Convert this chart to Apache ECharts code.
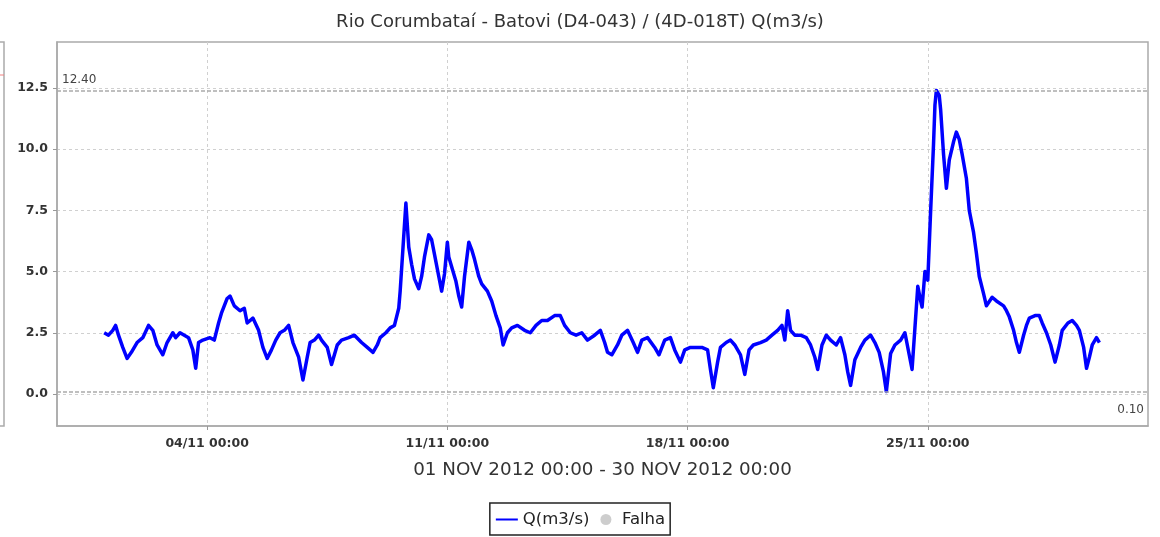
<!DOCTYPE html>
<html>
<head>
<meta charset="utf-8">
<title>Rio Corumbataí - Batovi</title>
<script src="https://cdn.jsdelivr.net/npm/echarts@6/dist/echarts.min.js"></script>
<style>
  html, body { margin: 0; padding: 0; background: #fff; }
  #chart { width: 1160px; height: 537px; }
</style>
</head>
<body>
<div id="chart"></div>
<script>
// Hourly offsets from 01 NOV 2012 00:00 and the discharge Q (m3/s) at each one
const hours = [
  0, 3, 6, 8, 10, 13, 16, 19, 23, 27, 31, 34, 37, 41, 44, 48, 50, 53, 56, 59,
  62, 64, 66, 69, 74, 77, 80, 82, 86, 88, 91, 95, 98, 100, 104, 108, 111, 114, 117, 120,
  123, 126, 129, 132, 136, 139, 142, 144, 147, 150, 152, 156, 159, 163, 166, 171, 175, 180, 184, 188,
  191, 193, 197, 200, 203, 206, 207, 209, 211, 213, 215, 217, 220, 222, 224, 227, 229, 231, 234, 236,
  238, 240, 241, 243, 246, 248, 250, 252, 255, 257, 259, 262, 264, 268, 271, 274, 277, 279, 282, 285,
  289, 294, 298, 302, 306, 310, 315, 319, 322, 326, 330, 334, 338, 343, 347, 350, 352, 355, 359, 362,
  366, 370, 373, 376, 380, 385, 388, 392, 396, 399, 403, 406, 410, 414, 418, 422, 424, 426, 429, 431,
  435, 438, 441, 445, 448, 451, 454, 459, 463, 467, 471, 474, 476, 478, 480, 483, 487, 491, 494, 497,
  499, 502, 505, 508, 512, 515, 518, 520, 522, 525, 529, 532, 536, 539, 542, 545, 547, 550, 553, 557,
  560, 563, 565, 567, 569, 571, 572, 574, 576, 578, 580, 581, 582, 584, 585, 587, 589, 591, 594, 596,
  598, 600, 603, 605, 608, 610, 612, 615, 617, 621, 624, 629, 631, 633, 636, 638, 640, 643, 645, 647,
  651, 654, 656, 659, 662, 665, 668, 670, 674, 677, 680, 682, 685, 687, 689, 691, 694, 696
];
const flow = [
  2.5, 2.4, 2.6, 2.8, 2.4, 1.9, 1.45, 1.7, 2.1, 2.3, 2.8, 2.6, 2.0, 1.6, 2.1, 2.5, 2.3, 2.5, 2.4, 2.3,
  1.8, 1.05, 2.1, 2.2, 2.3, 2.2, 2.9, 3.3, 3.9, 4.0, 3.6, 3.4, 3.5, 2.9, 3.1, 2.6, 1.9, 1.45, 1.8, 2.2,
  2.5, 2.6, 2.8, 2.1, 1.5, 0.57, 1.5, 2.1, 2.2, 2.4, 2.2, 1.9, 1.2, 2.0, 2.2, 2.3, 2.4, 2.1, 1.9, 1.7,
  2.0, 2.3, 2.5, 2.7, 2.8, 3.5, 4.2, 6.0, 7.8, 6.0, 5.3, 4.7, 4.3, 4.8, 5.6, 6.5, 6.3, 5.7, 4.8, 4.2,
  4.9, 6.2, 5.6, 5.2, 4.6, 4.0, 3.55, 4.8, 6.2, 5.9, 5.5, 4.8, 4.5, 4.2, 3.8, 3.2, 2.7, 2.0, 2.5, 2.7,
  2.8, 2.6, 2.5, 2.8, 3.0, 3.0, 3.2, 3.2, 2.8, 2.5, 2.4, 2.5, 2.2, 2.4, 2.6, 2.1, 1.7, 1.6, 2.0, 2.4,
  2.6, 2.1, 1.7, 2.2, 2.3, 1.9, 1.6, 2.2, 2.3, 1.8, 1.3, 1.8, 1.9, 1.9, 1.9, 1.8, 1.0, 0.25, 1.3, 1.9,
  2.1, 2.2, 2.0, 1.6, 0.8, 1.8, 2.0, 2.1, 2.2, 2.4, 2.6, 2.8, 2.2, 3.4, 2.6, 2.4, 2.4, 2.3, 2.0, 1.5,
  1.0, 2.0, 2.4, 2.2, 2.0, 2.3, 1.6, 0.9, 0.35, 1.4, 1.9, 2.2, 2.4, 2.1, 1.7, 0.9, 0.10, 1.65, 2.0, 2.2,
  2.5, 1.6, 1.0, 2.7, 4.4, 3.8, 3.55, 5.0, 4.65, 7.5, 10.2, 11.8, 12.40, 12.2, 11.6, 9.8, 8.4, 9.55, 10.3, 10.7,
  10.4, 9.8, 8.8, 7.5, 6.6, 5.75, 4.8, 4.1, 3.6, 3.95, 3.8, 3.6, 3.4, 3.15, 2.6, 2.1, 1.7, 2.4, 2.8, 3.1,
  3.2, 3.2, 2.9, 2.5, 2.0, 1.3, 2.0, 2.6, 2.9, 3.0, 2.8, 2.6, 1.9, 1.05, 1.5, 2.0, 2.3, 2.1
];

// Labelled ticks: y in m3/s, x in hours from the start of the month
const yTicks = [0, 2.5, 5, 7.5, 10, 12.5];
const xTicks = [72, 240, 408, 576];

const titleText = 'Rio Corumbataí - Batovi (D4-043) / (4D-018T) Q(m3/s)';
const periodText = '01 NOV 2012 00:00 - 30 NOV 2012 00:00';
const seriesName = 'Q(m3/s)';
const gapName = 'Falha';

const points = hours.map((h, i) => [h, flow[i]]);

function pad2(n) { return (n < 10 ? '0' : '') + n; }

const FONT = 'DejaVu Sans';
const chart = echarts.init(document.getElementById('chart'), null, { renderer: 'canvas' });

chart.setOption({
  backgroundColor: '#ffffff',
  animation: false,
  title: {
    text: titleText,
    left: 'center',
    top: 8,
    textStyle: { fontFamily: FONT, fontSize: 18, fontWeight: 'normal', color: '#333' }
  },
  // Edge of the neighbouring panel on the left
  graphic: [
    { type: 'rect', shape: { x: -20, y: 42, width: 24, height: 384 },
      style: { fill: 'none', stroke: '#aaa', lineWidth: 1.5 }, silent: true },
    { type: 'line', shape: { x1: 0, y1: 75, x2: 4, y2: 75 },
      style: { stroke: '#f08080', lineWidth: 1 }, silent: true }
  ],
  legend: {
    data: [
      // plain line key for the discharge series, no marker on it
      { name: seriesName, itemStyle: { opacity: 0 }, lineStyle: { width: 2 } },
      { name: gapName, icon: 'circle' }
    ],
    bottom: 2,
    left: 'center',
    borderColor: '#222',
    borderWidth: 1.5,
    padding: [8, 5, 7, 5],
    itemGap: 11,
    itemWidth: 22,
    itemHeight: 11,
    textStyle: { fontFamily: FONT, fontSize: 16.5, color: '#222' }
  },
  grid: {
    left: 57, right: 12, top: 42, bottom: 111,
    show: true, borderColor: '#aaa', borderWidth: 1.5
  },
  xAxis: {
    type: 'value',
    min: -33,
    max: 730,
    name: periodText,
    nameLocation: 'middle',
    nameGap: 35,
    nameTextStyle: { fontFamily: FONT, fontSize: 18.3, color: '#333' },
    axisLine: { show: true, onZero: false, lineStyle: { color: '#aaa', width: 1.5 } },
    axisTick: { show: true, customValues: xTicks, length: 4, lineStyle: { color: '#999' } },
    axisLabel: {
      customValues: xTicks,
      margin: 11,
      fontFamily: FONT, fontSize: 12.5, fontWeight: 'bold', color: '#333',
      formatter: function (h) {
        const d = Math.floor(h / 24) + 1;
        const hh = Math.round(h - (d - 1) * 24);
        return pad2(d) + '/11 ' + pad2(hh) + ':00';
      }
    },
    splitLine: { show: true, lineStyle: { color: '#d0d0d0', type: [3, 3], width: 1 } }
  },
  yAxis: {
    type: 'value',
    min: -1.31,
    max: 14.38,
    axisLine: { show: true, onZero: false, lineStyle: { color: '#aaa', width: 1.5 } },
    axisTick: { show: true, customValues: yTicks, length: 4, lineStyle: { color: '#999' } },
    axisLabel: {
      customValues: yTicks,
      margin: 9,
      fontFamily: FONT, fontSize: 12.5, fontWeight: 'bold', color: '#333',
      formatter: function (v) { return v.toFixed(1); }
    },
    splitLine: { show: true, lineStyle: { color: '#d0d0d0', type: [3, 3], width: 1 } }
  },
  series: [
    {
      name: seriesName,
      type: 'line',
      data: points,
      symbol: 'none',
      color: '#0000ff',
      lineStyle: { color: '#0000ff', width: 3.5, join: 'round' },
      z: 3,
      markLine: {
        silent: true,
        symbol: 'none',
        lineStyle: { color: '#aaa', type: [4, 2], width: 1.5 },
        data: [
          { type: 'max', label: { position: 'insideStartTop' } },
          { type: 'min', label: { position: 'insideEndBottom', distance: [4, 12] } }
        ],
        label: {
          fontFamily: FONT, fontSize: 12, color: '#444',
          formatter: function (p) { return Number(p.value).toFixed(2); }
        }
      }
    },
    {
      name: gapName,
      type: 'scatter',
      data: [],
      symbol: 'circle',
      color: '#c0c0c0'
    }
  ]
});
</script>
</body>
</html>
